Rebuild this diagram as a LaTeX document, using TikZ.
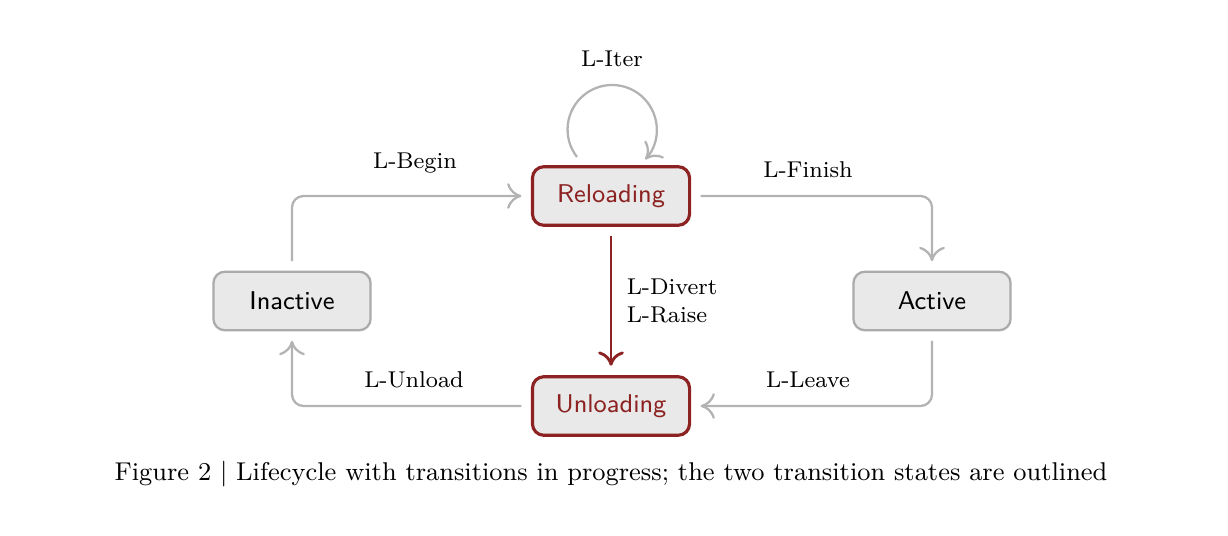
\documentclass[tikz,border=0pt]{standalone}
\usetikzlibrary{arrows.meta,positioning}
\definecolor{edgeGray}{HTML}{B3B3B3}
\definecolor{boxFill}{HTML}{E9E9E9}
\definecolor{boxGray}{HTML}{ABABAB}
\definecolor{transRed}{HTML}{8C2222}
\begin{document}
\begin{tikzpicture}[x=0.35pt, y=-0.35pt,
		>={Computer Modern Rightarrow[length=5pt,width=9pt]},
		state/.style={draw=boxGray, fill=boxFill, rounded corners=4pt, line width=0.8pt,
			minimum width=55pt, minimum height=20.5pt, font=\sffamily\fontsize{9}{11}\selectfont},
		transit/.style={state, draw=transRed, text=transRed, line width=1.1pt},
		flow/.style={->, draw=edgeGray, line width=0.8pt, rounded corners=4pt,
			shorten <=3.3pt, shorten >=3.3pt},
		lab/.style={font=\fontsize{8}{10}\selectfont, inner sep=1pt}]
	\useasboundingbox (0,0) rectangle (1228,536);
	
	\node[state] (inactive) at (292, 301) {Inactive};
	\node[transit] (reloading) at (611, 196) {Reloading};
	\node[state] (active) at (932, 301) {Active};
	\node[transit] (unloading) at (611, 406) {Unloading};
	
	% transitions
	\draw[flow] (inactive.north) |- (reloading.west);
	\draw[flow] (reloading.east) -| (active.north);
	\draw[flow] (active.south) |- (unloading.east);
	\draw[flow] (unloading.west) -| (inactive.south);
	\draw[flow, draw=transRed, line width=1pt] (reloading.south) -- (unloading.north);
	
	\coordinate (iterstart) at (577, 157);
	\draw[->, draw=edgeGray, line width=0.8pt] (iterstart) arc[start angle=218, end angle=-42, radius=15.6pt];
	
	% labels
	\node[lab] (liter) at (612, 59) {L-Iter};
	\node[lab] (lbegin) at (415, 163) {L-Begin};
	\node[lab] (lfinish) at (808, 170) {L-Finish};
	\node[lab, align=left] (ldivert) at (672, 301) {L-Divert\\L-Raise};
	\node[lab] (lunload) at (414, 380) {L-Unload};
	\node[lab] (lleave) at (808, 380) {L-Leave};
	
	\node[font=\fontsize{9}{11}\selectfont] (caption) at (611, 474)
		{Figure 2 | Lifecycle with transitions in progress; the two transition states are outlined};
\end{tikzpicture}
\end{document}
